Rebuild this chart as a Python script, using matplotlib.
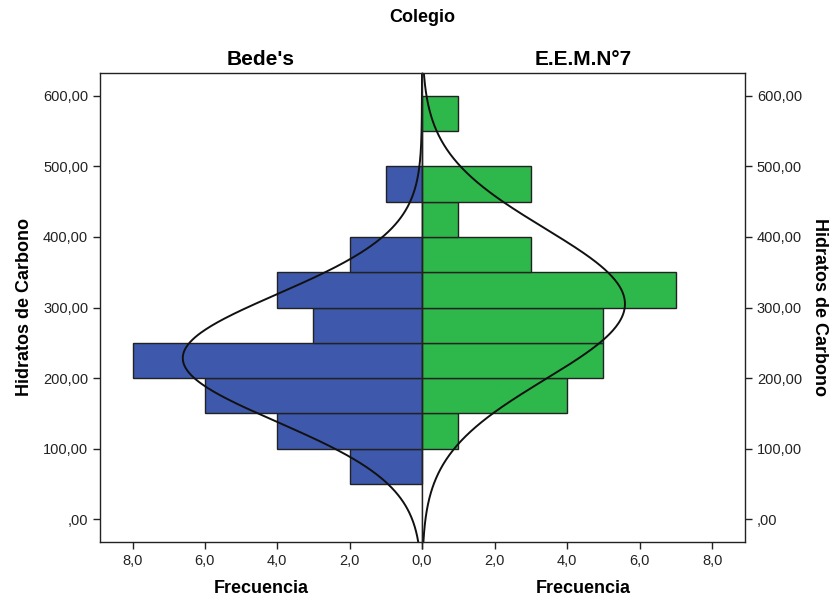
import numpy as np
import matplotlib.pyplot as plt
from matplotlib.ticker import FuncFormatter

plt.rcParams['font.family'] = ['Liberation Sans', 'DejaVu Sans']

# bins of Hidratos de Carbono (lower edges, width 50)
bin_lo = [50, 100, 150, 200, 250, 300, 350, 400, 450, 500, 550]
bin_w = 50
bede = [2, 4, 6, 8, 3, 4, 2, 0, 1, 0, 0]
eemn7 = [0, 1, 4, 5, 5, 7, 3, 1, 3, 0, 1]

groups = ["Bede's", "E.E.M.N°7"]
means = [228.3, 305.0]
sds = [90.5, 107.0]
colors = ['#3e58ac', '#2eb74a']

xticks = [0, 2, 4, 6, 8]
yticks = [0, 100, 200, 300, 400, 500, 600]


def ylab(v, pos):
    s = '%.2f' % v
    s = s.replace('.', ',')
    if s.startswith('0,'):
        s = s[1:]
    return s


def xlab(v, pos):
    return ('%.1f' % v).replace('.', ',')


def xlab_left(v, pos):
    # zero is labelled once, by the right panel
    if abs(v) < 1e-9:
        return ''
    return xlab(v, pos)


fig = plt.figure(figsize=(8.34, 6.01), dpi=100)
ax1 = fig.add_axes([100/834, 59/601, 322/834, 469/601])
ax2 = fig.add_axes([422/834, 59/601, 323/834, 469/601], sharey=ax1)

yy = np.linspace(-32.6, 632.6, 400)
for ax, counts, m, s, c, name in zip([ax1, ax2], [bede, eemn7], means, sds, colors, groups):
    ax.barh(bin_lo, counts, height=bin_w, align='edge', color=c,
            edgecolor='#222222', linewidth=1.0)
    n = sum(counts)
    curve = n * bin_w * np.exp(-0.5 * ((yy - m) / s) ** 2) / (s * np.sqrt(2 * np.pi))
    ax.plot(curve, yy, color='#111111', lw=1.4)
    ax.set_xlim(0, 8.9)
    ax.set_ylim(-32.6, 632.6)
    ax.set_xticks(xticks)
    ax.set_yticks(yticks)
    ax.yaxis.set_major_formatter(FuncFormatter(ylab))
    ax.tick_params(labelsize=10.5, colors='#222222', length=5, width=1)
    ax.set_xlabel('Frecuencia', fontsize=13, fontweight='bold', labelpad=9)
    ax.set_title(name, fontsize=15, fontweight='bold', pad=6)
    for sp in ax.spines.values():
        sp.set_linewidth(1.0)
        sp.set_color('#222222')

ax1.xaxis.set_major_formatter(FuncFormatter(xlab_left))
ax2.xaxis.set_major_formatter(FuncFormatter(xlab))
ax1.invert_xaxis()
ax1.set_ylabel('Hidratos de Carbono', fontsize=13, fontweight='bold', labelpad=7)
ax2.yaxis.tick_right()
ax2.yaxis.set_label_position('right')
ax2.tick_params(axis='y', labelright=True, labelleft=False)
ax2.set_ylabel('Hidratos de Carbono', fontsize=13, fontweight='bold',
               rotation=270, labelpad=19)

fig.text(422/834, 1 - 18/601, 'Colegio', ha='center', va='center',
         fontsize=13, fontweight='bold')

fig.savefig('out.png', dpi=100)
